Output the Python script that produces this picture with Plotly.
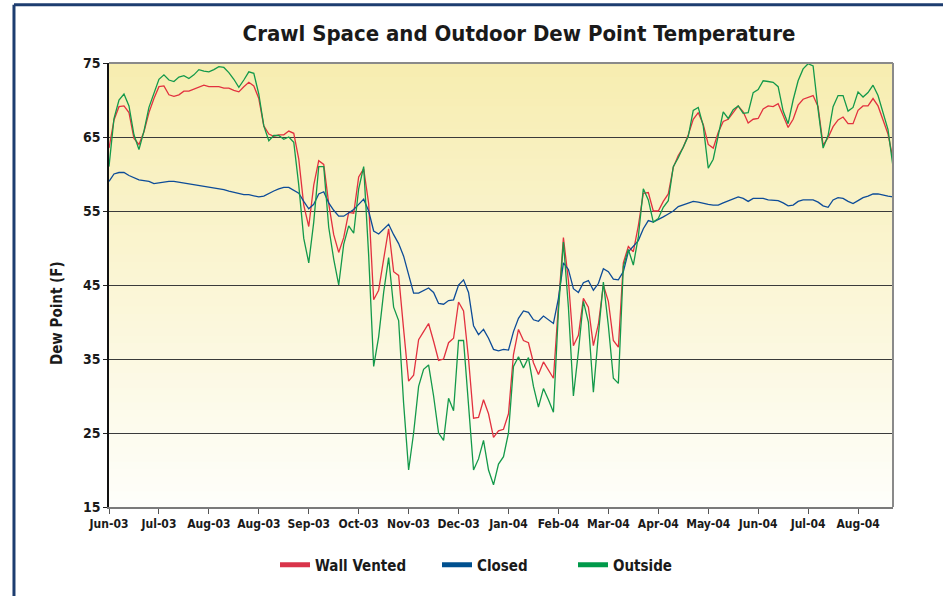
import plotly.graph_objects as go

# Day index (3-day sampling from 1 Jun 2003)
days = list(range(0, 472, 3))

wall_vented = [63.5, 67.3, 69.1, 69.2, 68.3, 64.8, 64.0, 65.7, 68.3, 70.2,
               71.8, 71.9, 70.7, 70.5, 70.7, 71.2, 71.2, 71.5, 71.8, 72.0,
               71.8, 71.8, 71.8, 71.6, 71.6, 71.3, 71.1, 71.8, 72.4, 71.9,
               70.2, 66.5, 65.4, 65.1, 65.3, 65.3, 65.8, 65.5, 62.0, 55.8,
               52.9, 58.5, 61.8, 61.3, 56.0, 51.8, 49.4, 51.4, 54.8, 54.7,
               59.6, 60.7, 56.0, 43.0, 44.3, 48.5, 52.6, 46.8, 46.3, 39.0,
               32.0, 32.8, 37.6, 38.7, 39.8, 37.4, 34.8, 35.0, 37.2, 37.8,
               42.7, 41.5, 35.0, 27.0, 27.1, 29.5, 27.6, 24.4, 25.3, 25.5,
               27.6, 35.6, 39.0, 37.5, 37.2, 34.5, 32.9, 34.6, 33.4, 32.4,
               42.3, 51.4, 45.6, 36.8, 38.2, 43.2, 42.0, 36.8, 39.7, 45.0,
               42.8, 37.5, 36.6, 48.0, 50.2, 49.5, 53.0, 57.4, 57.5, 55.0,
               55.0, 56.3, 57.3, 60.9, 62.5, 63.6, 65.3, 67.4, 68.3, 66.7,
               64.0, 63.5, 65.6, 67.1, 67.4, 68.3, 69.2, 68.4, 66.9, 67.4,
               67.5, 68.8, 69.2, 69.1, 69.5, 67.9, 66.3, 67.4, 69.3, 70.1,
               70.3, 70.6, 69.1, 63.9, 64.9, 66.4, 67.3, 67.7, 66.8, 66.8,
               68.6, 69.2, 69.2, 70.2, 69.2, 67.3, 65.4, 62.0]

closed = [59.0, 60.0, 60.2, 60.2, 59.8, 59.5, 59.2, 59.1, 59.0, 58.7,
          58.8, 59.0, 59.0, 59.0, 58.9, 58.8, 58.6, 58.5, 58.4, 58.3,
          58.2, 58.1, 58.0, 57.9, 57.7, 57.5, 57.3, 57.2, 57.2, 57.1,
          56.9, 57.0, 57.4, 57.7, 58.0, 58.2, 58.2, 57.8, 57.4, 56.3,
          55.3, 55.9, 57.3, 57.6, 56.1, 55.1, 54.3, 54.3, 54.7, 55.2,
          55.9, 56.6, 55.0, 52.3, 51.9, 52.6, 53.2, 51.8, 50.6, 48.9,
          46.4, 43.9, 43.9, 44.2, 44.6, 44.0, 42.5, 42.4, 42.9, 43.0,
          45.0, 45.7, 44.0, 39.5, 38.3, 39.0, 37.8, 36.3, 36.1, 36.3,
          36.2, 38.7, 40.5, 41.5, 41.3, 40.3, 40.1, 40.8, 40.3, 39.8,
          43.2, 48.0, 47.1, 44.5, 44.0, 45.3, 45.6, 44.3, 45.2, 47.2,
          46.8, 45.8, 45.7, 46.8, 49.5, 50.3, 51.0, 52.6, 53.7, 53.5,
          53.8, 54.2, 54.6, 55.0, 55.6, 55.8, 56.1, 56.3, 56.2, 56.0,
          55.9, 55.8, 55.8, 56.1, 56.4, 56.6, 56.9, 56.7, 56.3, 56.7,
          56.7, 56.7, 56.5, 56.5, 56.4, 56.1, 55.7, 55.8, 56.3, 56.5,
          56.5, 56.5, 56.2, 55.7, 55.5, 56.5, 56.8, 56.7, 56.3, 56.0,
          56.4, 56.8, 57.0, 57.3, 57.3, 57.1, 57.0, 56.9]

outside = [61.0, 67.5, 70.0, 70.8, 69.2, 65.3, 63.3, 65.8, 69.0, 71.0,
           72.8, 73.4, 72.7, 72.5, 73.1, 73.3, 72.9, 73.4, 74.1, 73.9,
           73.8, 74.1, 74.5, 74.4, 73.7, 72.8, 71.7, 72.7, 73.8, 73.6,
           70.8, 66.5, 64.5, 65.2, 65.2, 64.7, 65.0, 64.3, 58.5, 51.3,
           48.0, 53.5, 61.0, 61.0, 52.8, 48.5, 45.0, 50.5, 53.0, 52.0,
           58.0, 61.0, 49.0, 34.0, 38.0, 44.0, 48.7, 42.0, 40.2, 29.0,
           20.0, 25.0, 31.3, 33.6, 34.2, 30.0, 25.0, 24.0, 29.7, 28.0,
           37.5, 37.5, 28.5, 20.0, 21.5, 24.0, 20.0, 18.0, 20.8, 21.8,
           25.0, 34.0, 35.3, 33.8, 35.2, 31.3, 28.5, 31.0, 29.5, 27.8,
           41.5, 50.8, 42.0, 30.0, 36.0, 42.8, 40.0, 30.5, 38.3, 45.4,
           39.5, 32.4, 31.7, 47.5, 49.8, 47.7, 51.5, 58.0, 56.5, 53.5,
           54.0, 55.5, 56.4, 61.0, 62.2, 63.6, 65.1, 68.6, 69.0, 66.5,
           60.8, 62.0, 65.3, 68.4, 67.5, 68.7, 69.2, 68.2, 68.3, 71.0,
           71.4, 72.6, 72.5, 72.4, 71.8, 68.5, 66.8, 70.0, 72.6, 74.2,
           74.9, 74.6, 68.7, 63.5, 65.2, 69.1, 70.6, 70.6, 68.5, 69.0,
           71.1, 70.4, 71.0, 72.0, 70.6, 68.4, 66.0, 61.0]

tick_days = list(range(0, 451, 30))
tick_labels = ["Jun-03", "Jul-03", "Aug-03", "Aug-03", "Sep-03", "Oct-03",
               "Nov-03", "Dec-03", "Jan-04", "Feb-04", "Mar-04", "Apr-04",
               "May-04", "Jun-04", "Jul-04", "Aug-04"]
y_ticks = [15, 25, 35, 45, 55, 65, 75]

series_names = ["Wall Vented", "Closed", "Outside"]
series_colors = ["#e2313f", "#0d4c98", "#13994a"]
legend_colors = ["#d9344a", "#00508f", "#009a4a"]
legend_ids = ["legend", "legend2", "legend3"]
legend_px = [275, 437, 573]

FONT = "DejaVu Sans Condensed, Liberation Sans Narrow, Arial Narrow, sans-serif"

fig = go.Figure()
for name, vals, col in zip(series_names, [wall_vented, closed, outside], series_colors):
    fig.add_trace(go.Scatter(x=days, y=vals, mode="lines", name=name,
                             line=dict(color=col, width=1.3), showlegend=False))
for name, col, lid in zip(series_names, legend_colors, legend_ids):
    fig.add_trace(go.Scatter(x=[None], y=[None], mode="lines", name=name,
                             line=dict(color=col, width=5), showlegend=True,
                             legend=lid))

# gradient background bands (paper coords)
shapes = []
n = 60
top = (247, 237, 176)
bot = (254, 254, 250)
for i in range(n):
    f = i / (n - 1)
    c = tuple(round(top[j] + (bot[j] - top[j]) * f) for j in range(3))
    shapes.append(dict(type="rect", xref="paper", yref="paper",
                       x0=0, x1=1, y0=1 - (i + 1) / n, y1=1 - i / n + 0.002,
                       fillcolor="rgb(%d,%d,%d)" % c, line=dict(width=0),
                       layer="below"))
# plot area border (top/right)
shapes.append(dict(type="line", xref="paper", yref="paper", x0=0, x1=1, y0=1, y1=1,
                   line=dict(color="#8a8a8a", width=2), layer="above"))
shapes.append(dict(type="line", xref="paper", yref="paper", x0=1, x1=1, y0=0, y1=1,
                   line=dict(color="#8a8a8a", width=2), layer="above"))
# outer navy frame (top and left visible)
shapes.append(dict(type="line", xref="paper", yref="paper", x0=-0.1212, x1=1.2,
                   y0=1.131, y1=1.131, line=dict(color="#1d3d70", width=3)))
shapes.append(dict(type="line", xref="paper", yref="paper", x0=-0.1212, x1=-0.1212,
                   y0=1.131, y1=-0.3, line=dict(color="#1d3d70", width=3)))

legend_common = dict(orientation="h", xanchor="left", yanchor="middle",
                     y=(507 - 565) / 444, bgcolor="rgba(0,0,0,0)", itemwidth=30,
                     font=dict(family=FONT, size=15, color="#1a1a1a", weight="bold"))
legends = {}
for lid, px in zip(legend_ids, legend_px):
    legends[lid] = dict(legend_common, x=(px - 109) / 784)

fig.update_layout(
    width=943, height=596,
    margin=dict(l=109, r=50, t=63, b=89),
    paper_bgcolor="white",
    plot_bgcolor="rgba(0,0,0,0)",
    title=dict(text="Crawl Space and Outdoor Dew Point Temperature",
               x=519 / 943, xanchor="center", y=1 - 33 / 596, yanchor="middle",
               font=dict(family=FONT, size=22, color="#1a1a1a", weight="bold")),
    shapes=shapes,
    showlegend=True,
    annotations=[dict(text="Dew Point (F)", textangle=-90, xref="paper", yref="paper",
                      x=(57 - 109) / 784, y=(507 - 313) / 444,
                      xanchor="center", yanchor="middle", showarrow=False,
                      font=dict(family=FONT, size=15, color="#1a1a1a", weight="bold"))],
    xaxis=dict(range=[0, 471], tickmode="array", tickvals=tick_days, ticktext=tick_labels,
               ticks="outside", ticklen=5, tickcolor="#555", tickwidth=1,
               showline=True, linecolor="#7a7a7a", linewidth=2,
               showgrid=False, zeroline=False,
               tickfont=dict(family=FONT, size=12, color="#1a1a1a", weight="bold")),
    yaxis=dict(range=[15, 75], tickmode="array", tickvals=y_ticks,
               ticks="outside", ticklen=4, tickcolor="#222",
               showline=True, linecolor="#111", linewidth=1.5,
               showgrid=True, gridcolor="#3a3a3a", gridwidth=1.1,
               zeroline=False,
               tickfont=dict(family=FONT, size=14, color="#1a1a1a", weight="bold")),
    **legends,
)

fig.write_html("out.html", post_script="document.body.style.margin='0';",
               config={"displayModeBar": False})
